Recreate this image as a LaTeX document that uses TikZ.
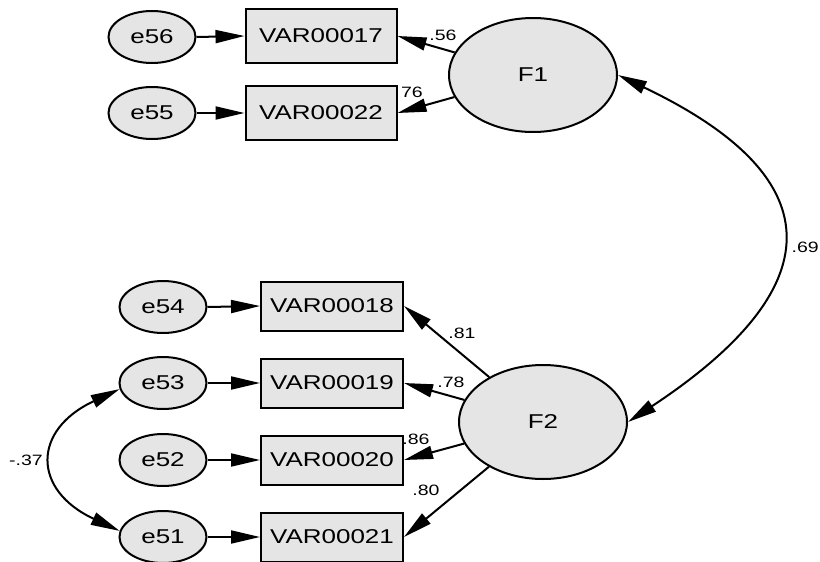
\documentclass[tikz,border=0pt]{standalone}
\usepackage{fontspec}
\setmainfont{Liberation Sans}[FakeStretch=1.3]
\usetikzlibrary{shapes.geometric,arrows.meta}
\tikzset{
  base/.style={draw, line width=2pt, fill=gray!20, inner sep=0pt, font=\fontsize{20}{22}\selectfont},
  obs/.style={base, rectangle, minimum width=151pt, minimum height=54pt},
  obsl/.style={base, rectangle, minimum width=142pt, minimum height=49pt},
  lat/.style={base, ellipse, minimum width=168pt, minimum height=114pt},
  err/.style={base, ellipse, minimum width=87pt, minimum height=52pt},
  arr/.style={-{Triangle[length=29pt,width=13pt]}, line width=2pt},
  darr/.style={{Triangle[length=29pt,width=13pt]}-{Triangle[length=29pt,width=13pt]}, line width=2pt},
  lbl/.style={font=\fontsize{15}{17}\selectfont, inner sep=0pt}
}
\begin{document}
\begin{tikzpicture}[x=1pt,y=-1pt]
\useasboundingbox (0,0) rectangle (820,562);
% labels drawn first (partly hidden by boxes)
\node[lbl] (l56) at (443,35) {.56};
\node[lbl] (l76) at (412,92) {76};
\node[lbl] (l81) at (462,333) {.81};
\node[lbl] (l78) at (451,382) {.78};
\node[lbl] (l86) at (416,439) {.86};
\node[lbl] (l80) at (426,490) {.80};
\node[lbl] (l37) at (26,460) {-.37};
\node[lbl, anchor=east] (l69) at (819,247) {.69};
% nodes
\node[obs] (v17) at (321,36) {VAR00017};
\node[obs] (v22) at (321,113) {VAR00022};
\node[err] (e56) at (152,37) {e56};
\node[err] (e55) at (152,113) {e55};
\node[lat] (F1) at (533,75) {F1};
\node[obsl] (v18) at (332,306) {VAR00018};
\node[obsl] (v19) at (332,383) {VAR00019};
\node[obsl] (v20) at (332,460) {VAR00020};
\node[obsl] (v21) at (332,537) {VAR00021};
\node[err] (e54) at (163,307) {e54};
\node[err] (e53) at (163,383) {e53};
\node[err] (e52) at (163,460) {e52};
\node[err] (e51) at (163,537) {e51};
\node[lat] (F2) at (543,422) {F2};
% connectors
\draw[arr] (e56.east) -- (v17.west);
\draw[arr] (e55.east) -- (v22.west);
\draw[arr] (e54.east) -- (v18.west);
\draw[arr] (e53.east) -- (v19.west);
\draw[arr] (e52.east) -- (v20.west);
\draw[arr] (e51.east) -- (v21.west);
\draw[arr] (F1) -- (v17.east);
\draw[arr] (F1) -- (v22.east);
\draw[arr] (F2) -- (v18.east);
\draw[arr] (F2) -- (v19.east);
\draw[arr] (F2) -- (v20.east);
\draw[arr] (F2) -- (v21.east);
\draw[darr] (F1.east) .. controls (838,180) and (828,290) .. (F2.east);
\draw[darr] (e53.188) .. controls (32,430) and (32,490) .. (e51.172);
\end{tikzpicture}
\end{document}
